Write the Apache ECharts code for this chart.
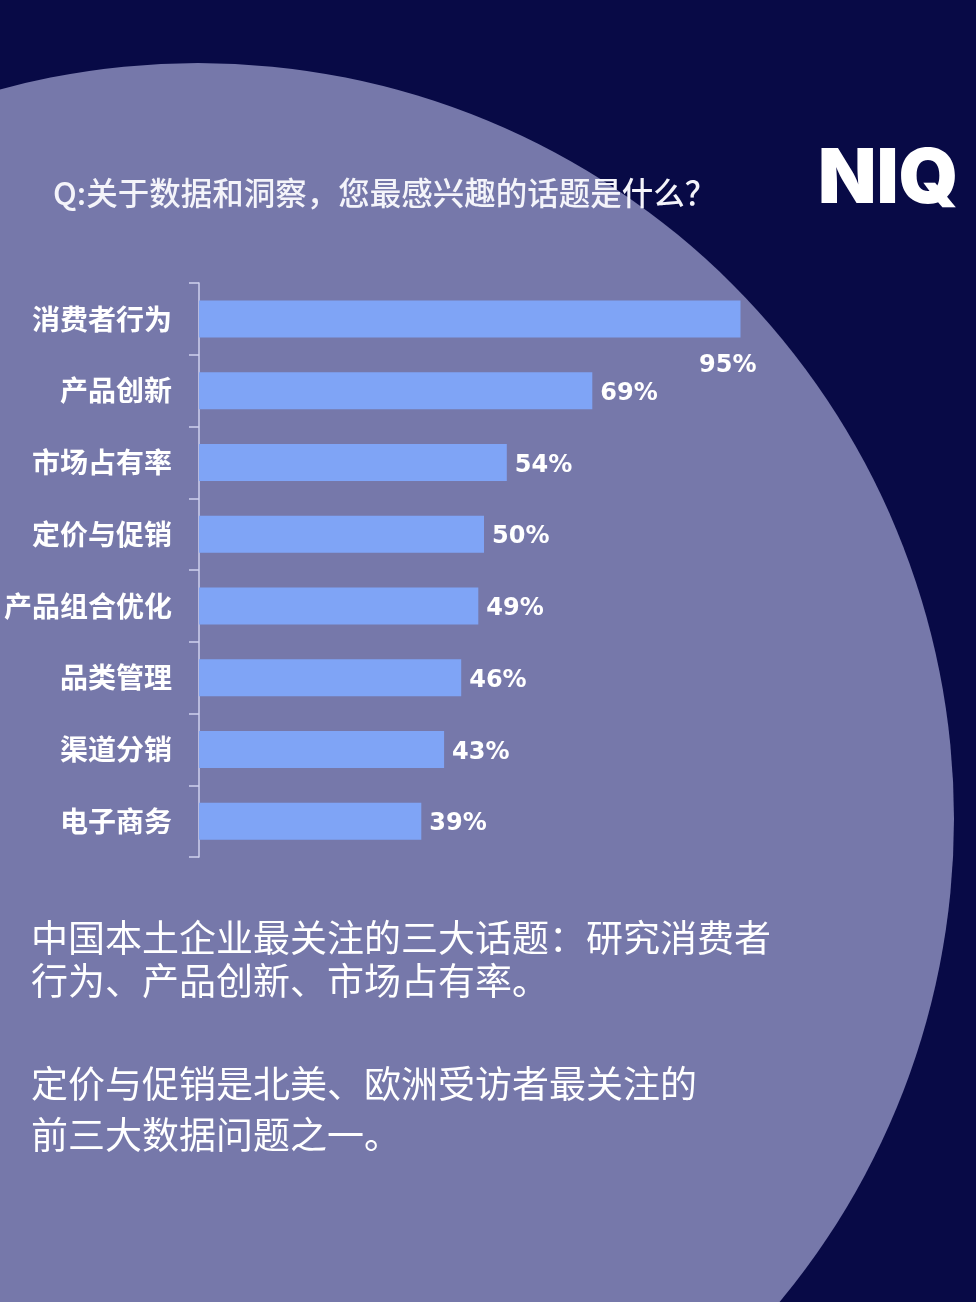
<!DOCTYPE html>
<html><head><meta charset="utf-8">
<script src="https://cdn.jsdelivr.net/npm/echarts@6/dist/echarts.min.js"></script>
<style>html,body{margin:0;padding:0;background:#080a46;}#c{width:976px;height:1302px;}</style>
</head><body><div id="c"></div>
<script>
var categories = ['消费者行为','产品创新','市场占有率','定价与促销','产品组合优化','品类管理','渠道分销','电子商务'];
var values = [95, 69, 54, 50, 49, 46, 43, 39];
var titleText = 'Q:关于数据和洞察，您最感兴趣的话题是什么？';
var noteLines = ['中国本土企业最关注的三大话题：研究消费者','行为、产品创新、市场占有率。','定价与促销是北美、欧洲受访者最关注的','前三大数据问题之一。'];

var chart = echarts.init(document.getElementById('c'), null, {renderer:'canvas'});
var cjk = '"Noto Sans CJK SC", sans-serif';
var barData = values.map(function(v, i){
  var d = {value: v};
  if (i === 0) {
    d.label = {position: ['100%','100%'], align: 'right', verticalAlign: 'top', offset: [16, 16]};
  }
  return d;
});
var noteY = [938, 981, 1084, 1135];
var graphics = [
  {type:'circle', shape:{cx:198, cy:819, r:756}, style:{fill:'#7678aa'}, z:-10, silent:true},
  {type:'text', x:53, y:193, style:{text:titleText, fill:'#f4f4fa', font:'500 31.5px ' + cjk, verticalAlign:'middle'}, z:10},
  {type:'text', x:818, y:180, style:{text:'NIQ', fill:'#ffffff', font:'900 76px Inter, "Noto Sans", sans-serif', verticalAlign:'middle'}, z:10}
];
noteLines.forEach(function(t, i){
  graphics.push({type:'text', x:31, y:noteY[i], style:{text:t, fill:'#ffffff', font:'normal 37px ' + cjk, verticalAlign:'middle'}, z:10});
});

chart.setOption({
  backgroundColor: '#080a46',
  animation: false,
  grid: {left:199, top:283, width:570, height:574},
  xAxis: {type:'value', min:0, max:100, show:false},
  yAxis: {
    type:'category', data:categories, inverse:true,
    axisLine:{show:true, lineStyle:{color:'#cfd1ee', width:1.5}},
    axisTick:{show:true, length:10, lineStyle:{color:'#cfd1ee', width:1.5}},
    axisLabel:{color:'#ffffff', fontSize:28, fontWeight:'bold', fontFamily:cjk, margin:27},
    splitLine:{show:false}
  },
  series: [{
    type:'bar', data:barData, barWidth:37,
    itemStyle:{color:'#7fa4f6'},
    label:{show:true, position:'right', distance:8, offset:[0, 3], formatter:'{c}%', color:'#ffffff', fontSize:24, fontWeight:'bold', fontFamily:'"DejaVu Sans", sans-serif'}
  }],
  graphic: graphics
});
</script></body></html>
